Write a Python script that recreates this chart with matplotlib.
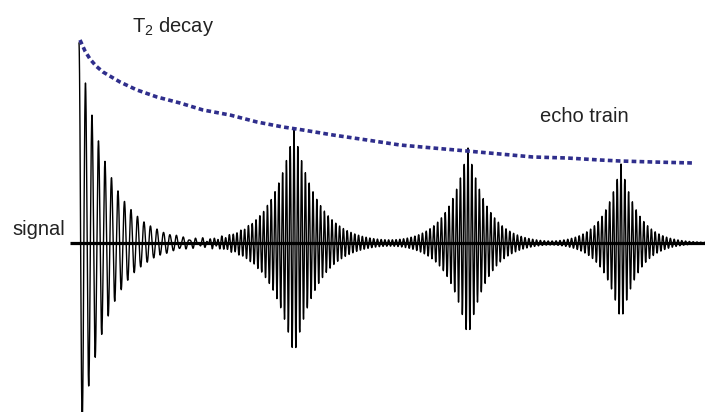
import numpy as np
import matplotlib
matplotlib.use("Agg")
import matplotlib.pyplot as plt

plt.rcParams['font.family'] = ['Liberation Sans', 'DejaVu Sans']
plt.rcParams['mathtext.fontset'] = 'custom'
plt.rcParams['mathtext.rm'] = 'Liberation Sans'

# time in arbitrary units, amplitude in arbitrary units (baseline = 0)
# free induction decay
fid_amp = 2.0        # starting amplitude
fid_tau = 2.9        # T2* decay constant
fid_period = 0.65    # oscillation period

# spin echoes
echo_centers = [21.5, 38.9, 54.2]
echo_amps = [1.13, 0.95, 0.79]
echo_taus = [2.4, 2.0, 1.75]
echo_period = 0.38

# T2 envelope (dotted line)
env_t = [0.1, 0.6, 1.1, 1.7, 2.4, 4.1, 5.8, 7.8, 10.1, 12.4, 15.1, 17.8, 20.4, 22.4,
         25.4, 28.8, 32.1, 35.4, 38.8, 42.1, 45.4, 48.8, 52.1, 54.1, 57.4, 61.4]
env_a = [2.03, 1.92, 1.84, 1.77, 1.71, 1.61, 1.53, 1.46, 1.40, 1.33, 1.28, 1.21, 1.16, 1.13,
         1.08, 1.03, 0.98, 0.95, 0.92, 0.89, 0.86, 0.85, 0.83, 0.82, 0.81, 0.80]

t_end = 62.6

# build the signal
t = np.linspace(0, t_end, 40000)
sig = fid_amp*np.exp(-t/fid_tau)*np.cos(2*np.pi*t/fid_period)
for tc, a, tau in zip(echo_centers, echo_amps, echo_taus):
    sig += a*np.exp(-np.abs(t-tc)/tau)*np.cos(2*np.pi*(t-tc)/echo_period)

fig = plt.figure(figsize=(7.05, 4.12), dpi=100)
ax = fig.add_axes([0, 0, 1, 1])
ax.set_xlim(-7.9, t_end)
ax.set_ylim(-1.69, 2.43)
ax.axis('off')

ax.plot(t, sig, color='black', lw=1.0)
# baseline
ax.plot([-0.9, t_end], [0, 0], color='black', lw=2.3, solid_capstyle='butt')
# T2 envelope
ax.plot(env_t, env_a, color='#2f2e8c', lw=2.6, dashes=(1.3, 0.9),
        dash_capstyle='butt')

fs = 14.5
fig.text(132/705, 1-32/412, r'T$_\mathregular{2}$ decay', fontsize=fs,
         color='#222222', ha='left', va='baseline')
fig.text(540/705, 1-122/412, 'echo train', fontsize=fs, color='#222222',
         ha='left', va='baseline')
fig.text(12/705, 1-235/412, 'signal', fontsize=fs, color='#222222',
         ha='left', va='baseline')

fig.savefig('out.png', dpi=100)
